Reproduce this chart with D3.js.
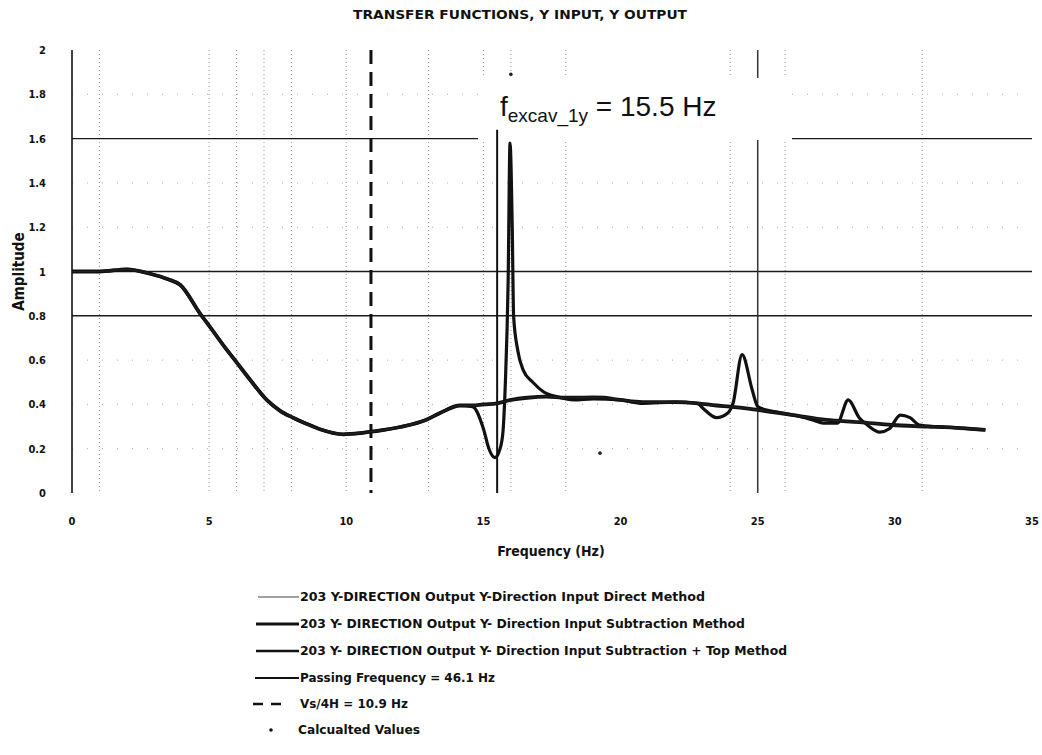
<!DOCTYPE html>
<html>
<head>
<meta charset="utf-8">
<script src="https://cdn.jsdelivr.net/npm/d3@7/dist/d3.min.js"></script>
<style>
  html, body { margin: 0; padding: 0; background: #fff; }
  svg { display: block; }
  .lab { font-family: "DejaVu Sans Condensed", "Liberation Sans Narrow", "Liberation Sans", sans-serif; font-weight: bold; fill: #111; }
</style>
</head>
<body>
<script>
// Transfer function curves: frequency (Hz) against amplitude
const smoothFreq = [0, 1, 2, 2.85, 3.5, 3.94, 4.67, 5.03, 5.5, 6, 6.5, 7.1, 7.6, 8.06, 8.5, 9.04, 9.9, 10.5, 11, 11.96, 12.9, 13.4, 14.15, 14.6, 15, 15.5, 16, 16.6, 17.3, 18, 19, 19.4, 20, 20.8, 21.5, 22, 22.8, 23.5, 24, 25, 26.3, 27.5, 28.7, 29.9, 31.2, 32.4, 33.3];
const smoothAmp  = [1.0, 1.0, 1.01, 0.99, 0.965, 0.94, 0.81, 0.75, 0.67, 0.59, 0.51, 0.42, 0.37, 0.34, 0.315, 0.288, 0.265, 0.27, 0.278, 0.298, 0.33, 0.36, 0.395, 0.395, 0.40, 0.405, 0.42, 0.43, 0.435, 0.43, 0.432, 0.43, 0.42, 0.41, 0.41, 0.41, 0.405, 0.395, 0.39, 0.375, 0.352, 0.33, 0.32, 0.307, 0.3, 0.293, 0.285];

const subFreq = [0, 1, 2, 2.85, 3.5, 3.94, 4.67, 5.03, 5.5, 6, 6.5, 7.1, 7.6, 8.06, 8.5, 9.04, 9.9, 10.5, 11, 11.96, 12.9, 13.4, 14.15, 14.6, 15.0, 15.2, 15.42, 15.55, 15.7, 15.8, 15.9, 15.97, 16.05, 16.1, 16.25, 16.45, 16.8, 17.2, 17.7, 18.3, 19, 20, 20.8, 22, 22.8, 23.0, 23.5, 23.9, 24.1, 24.43, 24.8, 25.0, 25.5, 26.3, 27.0, 27.4, 27.9, 28.3, 28.7, 29.0, 29.45, 29.8, 30.2, 30.55, 30.9, 31.5, 32.4, 33.3];
const subAmp  = [1.0, 1.0, 1.01, 0.99, 0.965, 0.94, 0.81, 0.75, 0.67, 0.59, 0.51, 0.42, 0.37, 0.34, 0.315, 0.288, 0.265, 0.27, 0.278, 0.298, 0.33, 0.36, 0.395, 0.39, 0.29, 0.2, 0.16, 0.18, 0.26, 0.5, 0.95, 1.58, 1.2, 0.8, 0.645, 0.555, 0.5, 0.456, 0.434, 0.42, 0.425, 0.42, 0.405, 0.41, 0.405, 0.383, 0.34, 0.36, 0.405, 0.625, 0.465, 0.39, 0.37, 0.352, 0.33, 0.315, 0.315, 0.42, 0.34, 0.307, 0.275, 0.29, 0.352, 0.34, 0.307, 0.3, 0.293, 0.285];

const calcFreq = [16.0, 19.25];
const calcAmp  = [1.89, 0.18];

const xTicks = [0, 5, 10, 15, 20, 25, 30, 35];
const yTicks = [0, 0.2, 0.4, 0.6, 0.8, 1, 1.2, 1.4, 1.6, 1.8, 2];
const minorX = [1, 5, 6, 7, 8, 10, 13, 15, 16, 18, 24, 26, 31];
const minorY = [0.2, 0.4, 0.6, 1.2, 1.4, 1.8];
const refAmp = [0.8, 1.0, 1.6];
const refFreq = [25];
const vs4hFreq = 10.9;
const excavFreq = 15.5;
const excavTop = 1.64;

const legendLabels = [
  "203 Y-DIRECTION Output Y-Direction Input Direct Method",
  "203 Y- DIRECTION Output Y- Direction Input Subtraction Method",
  "203 Y- DIRECTION Output Y- Direction Input Subtraction + Top Method",
  "Passing Frequency = 46.1 Hz",
  "Vs/4H = 10.9 Hz",
  "Calcualted Values"
];

const W = 1042, H = 755;
const svg = d3.select("body").append("svg").attr("width", W).attr("height", H);

const x = d3.scaleLinear().domain([0, 35]).range([72, 1032]);
const y = d3.scaleLinear().domain([0, 2]).range([493, 50]);

// title
svg.append("text").attr("class", "lab")
  .attr("x", 520).attr("y", 19).attr("text-anchor", "middle")
  .attr("font-size", 12.5).attr("textLength", 334).attr("lengthAdjust", "spacingAndGlyphs")
  .text("TRANSFER FUNCTIONS, Y INPUT, Y OUTPUT");

// minor dotted grid
svg.append("g").selectAll("line").data(minorX).join("line")
  .attr("x1", d => x(d)).attr("x2", d => x(d)).attr("y1", y(2)).attr("y2", y(0))
  .attr("stroke", "#999").attr("stroke-width", 1).attr("stroke-dasharray", "1,3");
svg.append("g").selectAll("line").data(minorY).join("line")
  .attr("x1", x(0)).attr("x2", x(35)).attr("y1", d => y(d)).attr("y2", d => y(d))
  .attr("stroke", "#aaa").attr("stroke-width", 1).attr("stroke-dasharray", "1,14");

// reference lines
svg.append("g").selectAll("line").data(refAmp).join("line")
  .attr("x1", x(0)).attr("x2", x(35)).attr("y1", d => y(d)).attr("y2", d => y(d))
  .attr("stroke", "#1a1a1a").attr("stroke-width", 1.4);
svg.append("g").selectAll("line").data(refFreq).join("line")
  .attr("x1", d => x(d)).attr("x2", d => x(d)).attr("y1", y(2)).attr("y2", y(0))
  .attr("stroke", "#333").attr("stroke-width", 1.5);

// y axis
svg.append("line").attr("x1", x(0)).attr("x2", x(0)).attr("y1", y(2)).attr("y2", y(0))
  .attr("stroke", "#111").attr("stroke-width", 1.6);

// Vs/4H marker
svg.append("line").attr("x1", x(vs4hFreq)).attr("x2", x(vs4hFreq)).attr("y1", y(2)).attr("y2", y(0))
  .attr("stroke", "#111").attr("stroke-width", 3).attr("stroke-dasharray", "14,8");

// annotation backdrop and label
svg.append("rect").attr("x", 478).attr("y", 78).attr("width", 314).attr("height", 62).attr("fill", "#fff");
const ann = svg.append("text").attr("x", 500).attr("y", 116)
  .attr("font-family", "Liberation Sans, Arial, sans-serif").attr("fill", "#111");
ann.append("tspan").attr("font-size", 28).text("f");
ann.append("tspan").attr("font-size", 19).attr("dy", 6).text("excav_1y");
ann.append("tspan").attr("font-size", 28).attr("dy", -6).text(" = 15.5 Hz");

// excavation frequency marker
svg.append("line").attr("x1", x(excavFreq)).attr("x2", x(excavFreq)).attr("y1", y(excavTop)).attr("y2", y(0))
  .attr("stroke", "#111").attr("stroke-width", 2);

// curves
const line = d3.line().x(d => x(d[0])).y(d => y(d[1])).curve(d3.curveMonotoneX);
const smooth = d3.zip(smoothFreq, smoothAmp);
const sub = d3.zip(subFreq, subAmp);
svg.append("path").attr("d", line(sub)).attr("fill", "none")
  .attr("stroke", "#111").attr("stroke-width", 3.2).attr("stroke-linejoin", "round");
svg.append("path").attr("d", line(smooth)).attr("fill", "none")
  .attr("stroke", "#111").attr("stroke-width", 3.8).attr("stroke-linejoin", "round");
svg.append("path").attr("d", line(smooth)).attr("fill", "none")
  .attr("stroke", "#222").attr("stroke-width", 1.2);

// calculated values
svg.append("g").selectAll("circle").data(d3.zip(calcFreq, calcAmp)).join("circle")
  .attr("cx", d => x(d[0])).attr("cy", d => y(d[1])).attr("r", 1.8).attr("fill", "#222");

// tick labels
svg.append("g").selectAll("text").data(yTicks).join("text").attr("class", "lab")
  .attr("x", 46).attr("y", d => y(d) + 4).attr("text-anchor", "end").attr("font-size", 11)
  .text(d => d3.format("~g")(d));
svg.append("g").selectAll("text").data(xTicks).join("text").attr("class", "lab")
  .attr("x", d => x(d)).attr("y", 525).attr("text-anchor", "middle").attr("font-size", 11)
  .text(d => d);

// axis titles
svg.append("text").attr("class", "lab").attr("font-size", 15)
  .attr("transform", `translate(24,${y(1)}) rotate(-90)`).attr("text-anchor", "middle")
  .text("Amplitude");
svg.append("text").attr("class", "lab").attr("font-size", 14)
  .attr("x", 551).attr("y", 556).attr("text-anchor", "middle")
  .text("Frequency (Hz)");

// legend
const legY = [597, 624, 651, 678, 704, 730];
const legW = [405, 445, 487, 195, 108, 122];
const lg = svg.append("g");
legendLabels.forEach((t, i) => {
  const yy = legY[i];
  if (i === 0) lg.append("line").attr("x1", 258).attr("x2", 299).attr("y1", yy).attr("y2", yy).attr("stroke", "#444").attr("stroke-width", 1);
  if (i === 1) lg.append("line").attr("x1", 256).attr("x2", 299).attr("y1", yy).attr("y2", yy).attr("stroke", "#111").attr("stroke-width", 3);
  if (i === 2) lg.append("line").attr("x1", 256).attr("x2", 299).attr("y1", yy).attr("y2", yy).attr("stroke", "#111").attr("stroke-width", 2.4);
  if (i === 3) lg.append("line").attr("x1", 255).attr("x2", 299).attr("y1", yy).attr("y2", yy).attr("stroke", "#111").attr("stroke-width", 2.2);
  if (i === 4) lg.append("line").attr("x1", 253).attr("x2", 282).attr("y1", yy).attr("y2", yy).attr("stroke", "#111").attr("stroke-width", 2.6).attr("stroke-dasharray", "10,8");
  if (i === 5) lg.append("circle").attr("cx", 271).attr("cy", yy).attr("r", 1.8).attr("fill", "#111");
  lg.append("text").attr("class", "lab").attr("x", i === 5 ? 298 : 300).attr("y", yy + 4)
    .attr("font-size", 12.5).attr("textLength", legW[i]).attr("lengthAdjust", "spacingAndGlyphs")
    .text(t);
});
</script>
</body>
</html>
